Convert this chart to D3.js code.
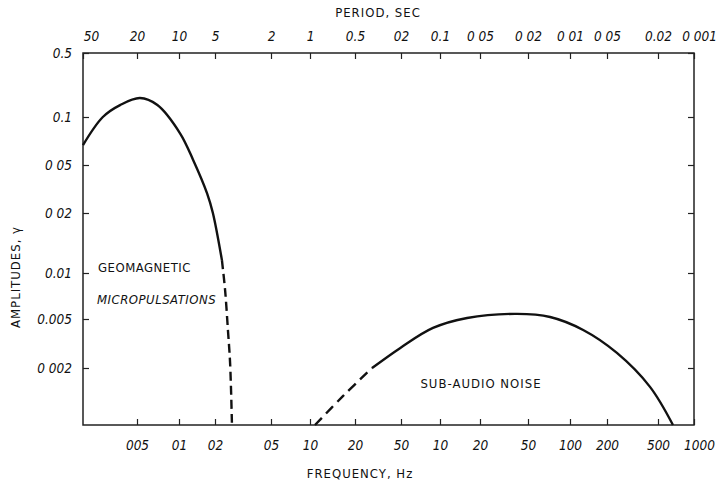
<!DOCTYPE html>
<html>
<head>
<meta charset="utf-8">
<script src="https://cdn.jsdelivr.net/npm/d3@7"></script>
<style>
  body { margin: 0; background: #fff; }
  text { font-family: "DejaVu Sans Condensed", "Liberation Sans Narrow", sans-serif; fill: #111; }
  .tick text { font-style: italic; font-size: 13.5px; }
</style>
</head>
<body>
<script>
// tick values and the labels as printed on the figure
var freqTicks = [0.05, 0.1, 0.2, 0.5, 1, 2, 5, 10, 20, 50, 100, 200, 500, 1000];
var freqLabels = ["005", "01", "02", "05", "10", "20", "50", "10", "20", "50", "100", "200", "500", "1000"];
var periodTicks = [50, 20, 10, 5, 2, 1, 0.5, 0.2, 0.1, 0.05, 0.02, 0.01, 0.005, 0.002, 0.001];
var periodLabels = ["50", "20", "10", "5", "2", "1", "0.5", "02", "0.1", "0 05", "0 02", "0 01", "0 05", "0.02", "0 001"];
var ampTicks = [0.5, 0.1, 0.05, 0.02, 0.01, 0.005, 0.002];
var ampLabels = ["0.5", "0.1", "0 05", "0 02", "0.01", "0.005", "0 002"];

// curves: [frequency Hz, amplitude]
var micropulsSolid = [[0.02, 0.0667], [0.028, 0.1], [0.0375, 0.135], [0.0525, 0.161], [0.07, 0.135],
  [0.102, 0.079], [0.131, 0.054], [0.172, 0.029], [0.192, 0.02], [0.224, 0.0116]];
var micropulsDashed = [[0.224, 0.0116], [0.236, 0.0077], [0.247, 0.0041], [0.256, 0.0022], [0.264, 0.001]];
var noiseDashed = [[1.08, 0.001], [1.66, 0.00142], [2.81, 0.002]];
var noiseSolid = [[2.81, 0.002], [4.9, 0.0029], [8.83, 0.00423], [16, 0.00508], [40.5, 0.0054],
  [72, 0.00515], [128, 0.00407], [239, 0.00265], [433, 0.00159], [667, 0.001]];

var width = 717, height = 486;
var box = { left: 83, right: 694, top: 53, bottom: 425 };

var svg = d3.select("body").append("svg")
  .attr("width", width)
  .attr("height", height);

// the printed axis is not evenly logarithmic, so the scales are piecewise log
var x = d3.scaleLog()
  .domain([0.02].concat(freqTicks))
  .range([box.left, 137, 179, 215, 271, 310, 355, 401, 440, 480, 528, 570, 607, 658, box.right]);

var xPeriod = d3.scaleLog()
  .domain(periodTicks)
  .range(x.range());

var y = d3.scaleLog()
  .domain(ampTicks.concat([0.001]))
  .range([box.top, 117, 165, 213, 273, 319, 368, box.bottom]);

// frame
svg.append("rect")
  .attr("x", box.left).attr("y", box.top)
  .attr("width", box.right - box.left).attr("height", box.bottom - box.top)
  .attr("fill", "none")
  .attr("stroke", "#222")
  .attr("stroke-width", 1.5);

function styleAxis(g) {
  g.select(".domain").remove();
  g.selectAll(".tick line").attr("stroke", "#222").attr("stroke-width", 1.2);
  g.selectAll(".tick text").attr("fill", "#111");
}

var bottomAxis = svg.append("g")
  .attr("transform", "translate(0," + box.bottom + ")")
  .call(d3.axisBottom(x).tickValues(freqTicks).tickSize(-6).tickPadding(15)
    .tickFormat((d, i) => freqLabels[i]))
  .call(styleAxis);

var topAxis = svg.append("g")
  .attr("transform", "translate(0," + box.top + ")")
  .call(d3.axisTop(xPeriod).tickValues(periodTicks).tickSize(-6).tickPadding(12)
    .tickFormat((d, i) => periodLabels[i]))
  .call(styleAxis);

// corner labels sit a little inside/outside the frame on the original
topAxis.selectAll(".tick text").filter((d, i) => i === 0).attr("dx", 8);
topAxis.selectAll(".tick text").filter(d => d === 0.001).attr("dx", 5);
bottomAxis.selectAll(".tick text").filter(d => d === 1000).attr("dx", 5);

svg.append("g")
  .attr("transform", "translate(" + box.left + ",0)")
  .call(d3.axisLeft(y).tickValues(ampTicks).tickSize(-6).tickPadding(11)
    .tickFormat((d, i) => ampLabels[i]))
  .call(styleAxis);

svg.append("g")
  .attr("transform", "translate(" + box.right + ",0)")
  .call(d3.axisRight(y).tickValues(ampTicks).tickSize(-6).tickFormat(""))
  .call(styleAxis);

var line = d3.line()
  .x(d => x(d[0]))
  .y(d => y(d[1]))
  .curve(d3.curveCatmullRom);

function curve(data, dash) {
  svg.append("path")
    .datum(data)
    .attr("d", line)
    .attr("fill", "none")
    .attr("stroke", "#111")
    .attr("stroke-width", 2.4)
    .attr("stroke-dasharray", dash);
}
curve(micropulsSolid, null);
curve(micropulsDashed, "9,5");
curve(noiseSolid, null);
curve(noiseDashed, "10,6");

// titles and labels
svg.append("text")
  .attr("x", 378).attr("y", 17)
  .attr("text-anchor", "middle")
  .attr("font-size", 13).attr("letter-spacing", 1)
  .text("PERIOD, SEC");

svg.append("text")
  .attr("x", 360).attr("y", 478)
  .attr("text-anchor", "middle")
  .attr("font-size", 13).attr("letter-spacing", 1)
  .text("FREQUENCY, Hz");

svg.append("text")
  .attr("transform", "translate(20,277) rotate(-90)")
  .attr("text-anchor", "middle")
  .attr("font-size", 13).attr("letter-spacing", 1)
  .text("AMPLITUDES, γ");

svg.append("text")
  .attr("x", 98).attr("y", 272)
  .attr("font-size", 13).attr("letter-spacing", 0.5)
  .text("GEOMAGNETIC");

svg.append("text")
  .attr("x", 97).attr("y", 304)
  .attr("font-size", 13).attr("font-style", "italic").attr("letter-spacing", 0.5)
  .text("MICROPULSATIONS");

svg.append("text")
  .attr("x", 481).attr("y", 388)
  .attr("text-anchor", "middle")
  .attr("font-size", 13).attr("letter-spacing", 1)
  .text("SUB-AUDIO NOISE");
</script>
</body>
</html>
